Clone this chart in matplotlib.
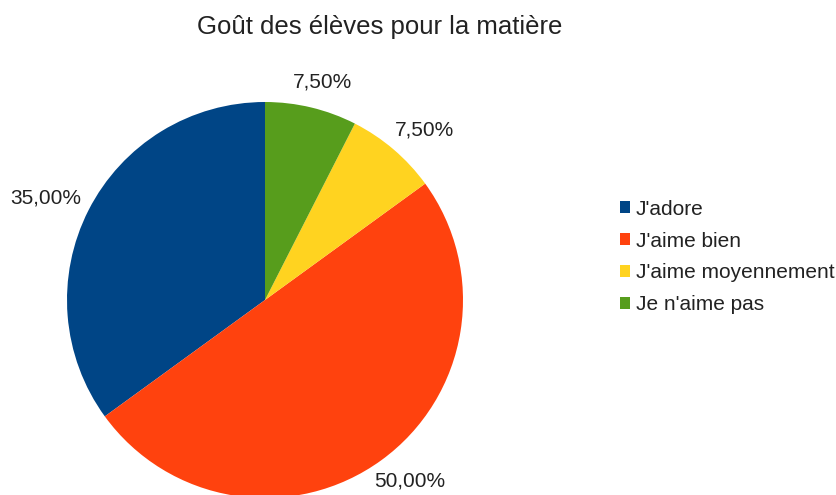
import numpy as np
import matplotlib
matplotlib.use("Agg")
import matplotlib.pyplot as plt

plt.rcParams["font.family"] = ["Liberation Sans", "DejaVu Sans"]

categories = ["J'adore", "J'aime bien", "J'aime moyennement", "Je n'aime pas"]
values = [35.0, 50.0, 7.5, 7.5]
colors = ["#004586", "#ff420e", "#ffd320", "#579d1c"]

W, H = 837, 495
fig = plt.figure(figsize=(W / 100, H / 100), dpi=100)

# pie centre ~ (265, 300) px, radius ~198 px
cx, cy, r = 265, 300, 198
ax = fig.add_axes([(cx - r) / W, (H - cy - r) / H, 2 * r / W, 2 * r / H])
wedges, _ = ax.pie(values, colors=colors, startangle=90, counterclock=True,
                   radius=1.0, wedgeprops=dict(linewidth=0))
ax.set_xlim(-1, 1)
ax.set_ylim(-1, 1)
ax.set_aspect("equal")
ax.axis("off")

# percentage labels outside the slices
for w, v in zip(wedges, values):
    th = np.deg2rad((w.theta1 + w.theta2) / 2)
    lbl = f"{v:.2f}".replace(".", ",") + "%"
    x = 1.08 * np.cos(th) + 0.16 * np.cos(th)
    y = 1.08 * np.sin(th) + 0.05 * np.sin(th)
    ax.text(x, y, lbl, ha="center", va="center", fontsize=15,
            color="#222222", clip_on=False)

fig.text(380 / W, 1 - 27 / H, "Goût des élèves pour la matière",
         ha="center", va="center", fontsize=18.5, color="#222222")

fig.legend(wedges, categories, loc="center left",
           bbox_to_anchor=(620 / W, 1 - 257 / H), frameon=False,
           fontsize=15, handlelength=0.5, handleheight=0.5,
           handletextpad=0.25, labelspacing=0.62, borderpad=0,
           borderaxespad=0, labelcolor="#222222")

fig.savefig("out.png", dpi=100)
